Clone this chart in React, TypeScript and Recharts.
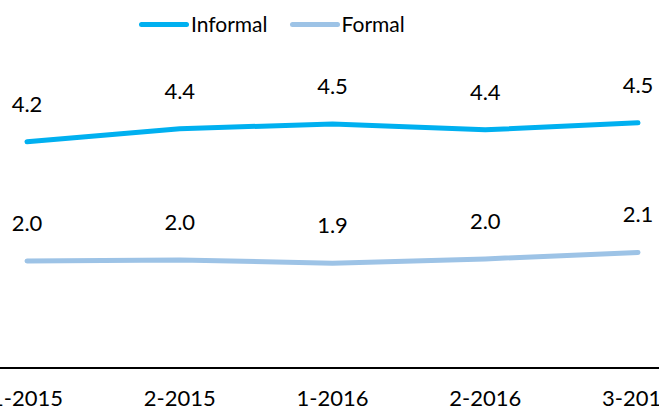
import { LineChart, Line, XAxis, YAxis, LabelList } from "recharts";

const periods = ["1-2015", "2-2015", "1-2016", "2-2016", "3-2016"];
const informal = [4.19, 4.43, 4.52, 4.41, 4.54];
const formal = [1.98, 2.0, 1.94, 2.02, 2.14];

const series = [
  { key: "informal", name: "Informal", color: "#00B0F0" },
  { key: "formal", name: "Formal", color: "#9DC3E6" },
];

const data = periods.map((p, i) => ({
  period: p,
  informal: informal[i],
  formal: formal[i],
}));

const FONT = "Lato, 'Open Sans', sans-serif";

function ValueLabel(props: any) {
  const { x, y, value } = props;
  return (
    <text
      x={x}
      y={y - 30}
      textAnchor="middle"
      fontSize={22}
      fontFamily={FONT}
      fill="#000"
    >
      {Number(value).toFixed(1)}
    </text>
  );
}

export default function App() {
  return (
    <div
      style={{
        position: "absolute",
        left: 0,
        top: 0,
        width: 659,
        height: 413,
        background: "#fff",
        fontFamily: FONT,
      }}
    >
      <div
        style={{
          position: "absolute",
          top: 10,
          left: 139,
          display: "flex",
          gap: 22,
          fontSize: 21,
          color: "#000",
          lineHeight: "28px",
        }}
      >
        {series.map((s) => (
          <div key={s.key} style={{ display: "flex", alignItems: "center" }}>
            <span
              style={{
                display: "inline-block",
                width: 50,
                height: 5,
                borderRadius: 3,
                background: s.color,
                marginRight: 2,
              }}
            />
            <span>{s.name}</span>
          </div>
        ))}
      </div>
      <LineChart
        width={659}
        height={413}
        data={data}
        margin={{ top: 44, right: 0, bottom: 5, left: 0 }}
      >
        <XAxis
          dataKey="period"
          padding={{ left: 27, right: 21 }}
          height={40}
          tickLine={false}
          axisLine={{ stroke: "#000", strokeWidth: 2 }}
          tick={{ fontSize: 22, fill: "#000", fontFamily: FONT }}
          tickMargin={16}
          interval={0}
        />
        <YAxis hide domain={[0, 6]} />
        {series.map((s) => (
          <Line
            key={s.key}
            dataKey={s.key}
            name={s.name}
            type="linear"
            stroke={s.color}
            strokeWidth={5}
            strokeLinecap="round"
            dot={false}
            activeDot={false}
            isAnimationActive={false}
          >
            <LabelList dataKey={s.key} content={<ValueLabel />} />
          </Line>
        ))}
      </LineChart>
    </div>
  );
}
